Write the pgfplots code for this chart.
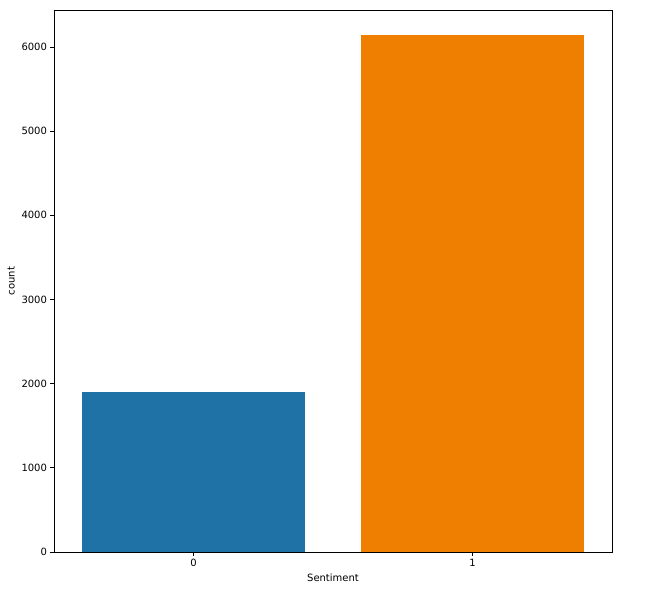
\documentclass[border=0pt]{standalone}
\usepackage{pgfplots}
\pgfplotsset{compat=1.18}
\usepackage{fontspec}
\setmainfont{DejaVu Sans}
\definecolor{sbblue}{RGB}{30,114,166}
\definecolor{sborange}{RGB}{239,127,0}
\begin{document}
\fontsize{10pt}{12pt}\selectfont
\begin{tikzpicture}[x=1pt,y=1pt]
\path (-54,-46) rectangle (607,552);
\begin{axis}[
  at={(0,0)}, anchor=south west,
  scale only axis, width=558pt, height=542pt,
  xmin=-0.5, xmax=1.5, ymin=0, ymax=6440,
  xtick={0,1}, xticklabels={0,1},
  ytick={0,1000,2000,3000,4000,5000,6000},
  tick align=outside, tick pos=left,
  major tick length=3.5pt,
  /pgf/number format/assume math mode=true,
  /pgf/number format/1000 sep={},
  tick label style={font=\fontsize{10pt}{12pt}\selectfont},
  label style={font=\fontsize{10pt}{12pt}\selectfont},
  xlabel={Sentiment}, ylabel={count},
  axis line style={line width=0.8pt},
  every tick/.style={black, line width=0.8pt},
  ybar, bar width=0.8, bar shift=0pt,
]
\addplot[fill=sbblue, draw=none] coordinates {(0,1905)};
\addplot[fill=sborange, draw=none] coordinates {(1,6140)};
\end{axis}
\end{tikzpicture}
\end{document}
